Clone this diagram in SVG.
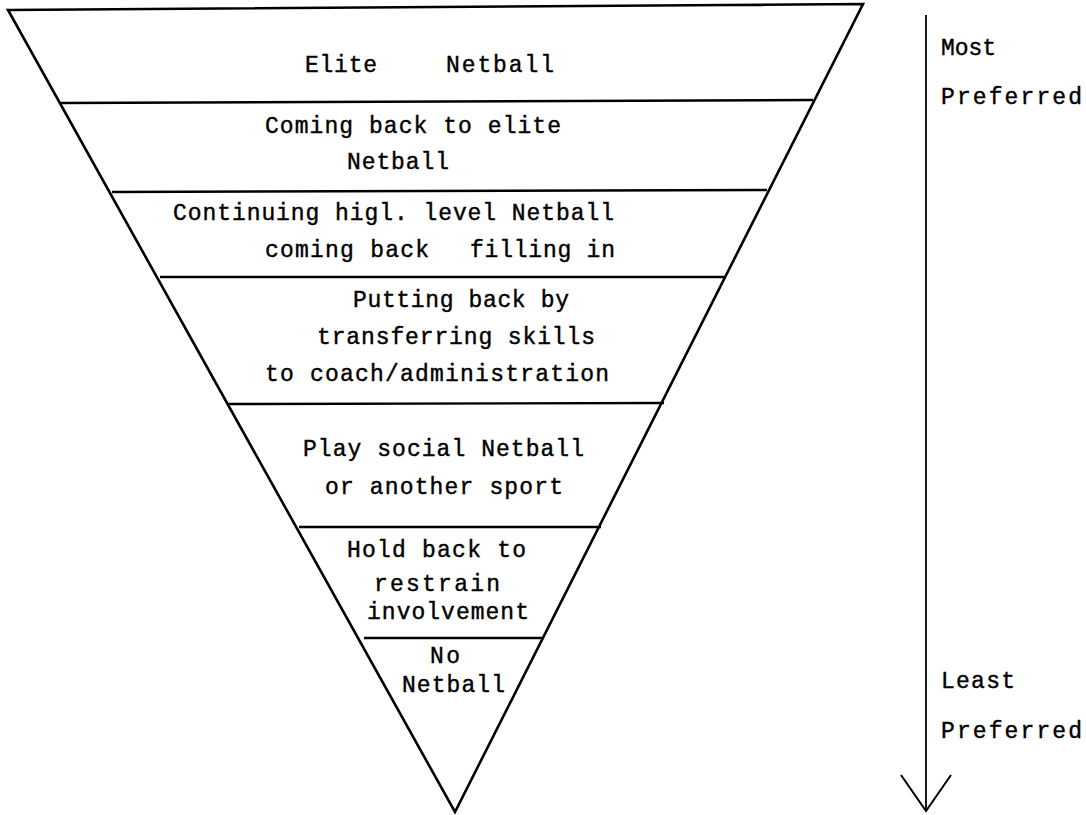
<svg xmlns="http://www.w3.org/2000/svg" width="1086" height="815" viewBox="0 0 1086 815">
  <defs>
    <style>
      .edge { fill: none; stroke: #000; stroke-width: 2.6; stroke-linejoin: miter; stroke-linecap: round; }
      .rule { fill: none; stroke: #000; stroke-width: 2.4; stroke-linecap: butt; }
      .lbl { font-family: "Liberation Mono", "Courier New", monospace; font-size: 23px; fill: #000; stroke: #000; stroke-width: 0.4; }
      .axis { fill: none; stroke: #000; stroke-width: 1.8; }
    </style>
    <!-- open V head, drawn pointing along +x so orient="auto" turns it down the axis -->
    <marker id="openV" markerUnits="userSpaceOnUse" markerWidth="60" markerHeight="60" refX="40" refY="30" orient="auto" viewBox="0 0 60 60">
      <path d="M4,5 L40,30 L4,55" fill="none" stroke="#000" stroke-width="2"/>
    </marker>
  </defs>

  <rect width="1086" height="815" fill="#fff"/>

  <!-- inverted triangle outline -->
  <g id="outline">
    <path class="edge" d="M8,10 L863,4 L455,812 Z"/>
  </g>

  <!-- tiers, top to bottom, each with its lower dividing rule -->
  <g id="tier-elite">
    <text class="lbl" y="72"><tspan x="305" textLength="72">Elite</tspan><tspan x="446" textLength="108">Netball</tspan></text>
    <line class="rule" x1="60" y1="103" x2="813" y2="100"/>
  </g>

  <g id="tier-coming-back">
    <text class="lbl" x="265" y="133" textLength="296" lengthAdjust="spacing">Coming back to elite</text>
    <text class="lbl" x="347" y="169" textLength="102" lengthAdjust="spacing">Netball</text>
    <line class="rule" x1="112" y1="192" x2="767" y2="190"/>
  </g>

  <g id="tier-continuing">
    <text class="lbl" x="173" y="220" textLength="441" lengthAdjust="spacing">Continuing higl. level Netball</text>
    <text class="lbl" y="257"><tspan x="265" textLength="164">coming back</tspan><tspan x="470" textLength="145">filling in</tspan></text>
    <line class="rule" x1="160" y1="277" x2="724" y2="277"/>
  </g>

  <g id="tier-putting-back">
    <text class="lbl" x="353" y="307" textLength="216" lengthAdjust="spacing">Putting back by</text>
    <text class="lbl" x="317" y="344" textLength="278" lengthAdjust="spacing">transferring skills</text>
    <text class="lbl" x="265" y="381" textLength="344" lengthAdjust="spacing">to coach/administration</text>
    <line class="rule" x1="227" y1="404" x2="664" y2="403"/>
  </g>

  <g id="tier-social">
    <text class="lbl" x="303" y="456" textLength="281" lengthAdjust="spacing">Play social Netball</text>
    <text class="lbl" x="325" y="494" textLength="238" lengthAdjust="spacing">or another sport</text>
    <line class="rule" x1="299" y1="527" x2="601" y2="527"/>
  </g>

  <g id="tier-hold-back">
    <text class="lbl" x="347" y="557" textLength="179" lengthAdjust="spacing">Hold back to</text>
    <text class="lbl" x="374" y="591" textLength="126" lengthAdjust="spacing">restrain</text>
    <text class="lbl" x="367" y="619" textLength="162" lengthAdjust="spacing">involvement</text>
    <line class="rule" x1="364" y1="638" x2="544" y2="638"/>
  </g>

  <g id="tier-none">
    <text class="lbl" x="430" y="663" textLength="30" lengthAdjust="spacing">No</text>
    <text class="lbl" x="402" y="692" textLength="103" lengthAdjust="spacing">Netball</text>
  </g>

  <!-- preference scale -->
  <g id="connectors">
    <line class="axis" x1="926" y1="15" x2="926" y2="811" marker-end="url(#openV)"/>
  </g>

  <g id="scale-labels">
    <text class="lbl" x="941" y="55" textLength="55" lengthAdjust="spacing">Most</text>
    <text class="lbl" x="941" y="104" textLength="141" lengthAdjust="spacing">Preferred</text>
    <text class="lbl" x="941" y="688" textLength="74" lengthAdjust="spacing">Least</text>
    <text class="lbl" x="941" y="738" textLength="141" lengthAdjust="spacing">Preferred</text>
  </g>
</svg>
